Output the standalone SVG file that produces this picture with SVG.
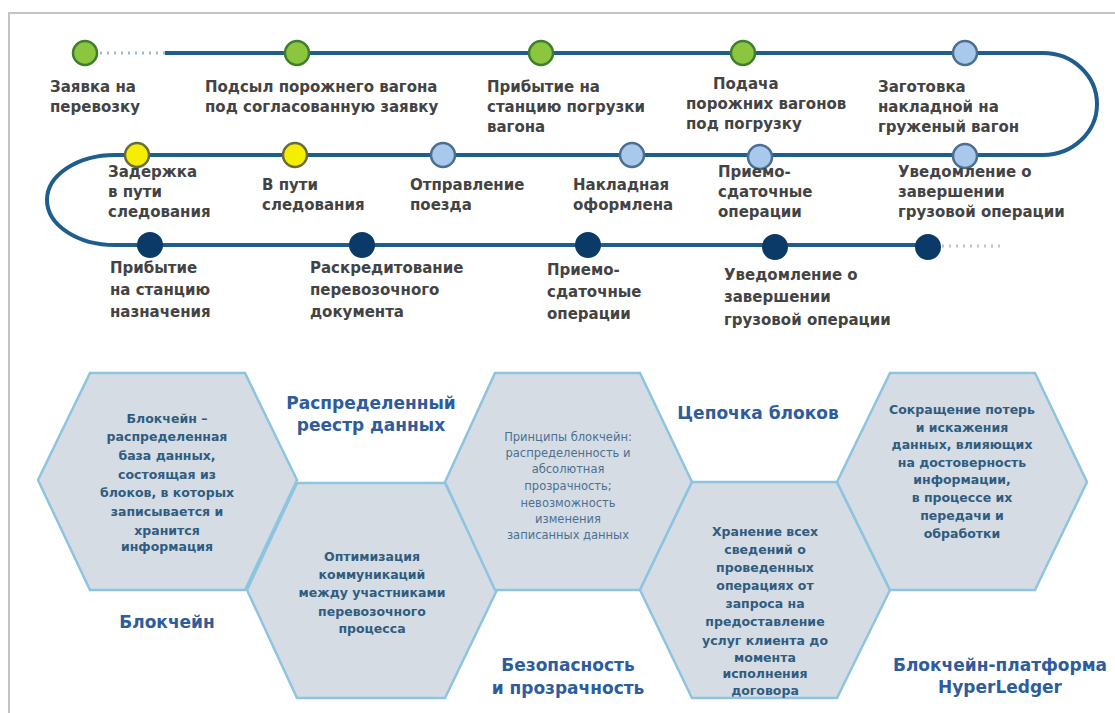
<svg xmlns="http://www.w3.org/2000/svg" width="1115" height="713" viewBox="0 0 1115 713">
<style>
.lbl{font-family:"DejaVu Sans",Verdana,sans-serif;font-weight:bold;font-size:15px;fill:#434343}
.hx{fill:#d5dce4;stroke:#8fc4e0;stroke-width:2.5}
.ht{font-family:"DejaVu Sans",Verdana,sans-serif;font-weight:bold;font-size:12.5px;fill:#2f5c80;text-anchor:middle}
.ht3{font-family:"DejaVu Sans",Verdana,sans-serif;font-size:11.5px;fill:#4b7192;text-anchor:middle}
.ttl{font-family:"DejaVu Sans",Verdana,sans-serif;font-weight:bold;font-size:17px;fill:#2e5c9c;text-anchor:middle}
.g{fill:#8cc63e;stroke:#3e7f2d;stroke-width:2.5}
.y{fill:#f4ef00;stroke:#6d6a3a;stroke-width:2.5}
.b{fill:#a9c9ec;stroke:#4a6e94;stroke-width:2.5}
.n{fill:#0c3a68;stroke:#0c3a68;stroke-width:2}
</style>
<rect x="9" y="13" width="1130" height="730" fill="none" stroke="#c4c4c4" stroke-width="2"/>
<g id="connectors" fill="none">
<path d="M165,53 H1043 A54,51 0 0 1 1043,155 H115 A68,45 0 0 0 115,245 H930" stroke="#1f5e8c" stroke-width="4"/>
<line x1="100" y1="53" x2="165" y2="53" stroke="#9fb8cf" stroke-width="3" stroke-dasharray="2 5"/>
<line x1="942" y1="246" x2="1002" y2="246" stroke="#b5c6d6" stroke-width="3" stroke-dasharray="2 5"/>
</g>
<g id="e1"><circle class="g" cx="85" cy="53" r="12"/><text class="lbl" x="50" y="92">Заявка на</text><text class="lbl" x="50" y="112">перевозку</text></g>
<g id="e2"><circle class="g" cx="297" cy="53" r="12"/><text class="lbl" x="205" y="92">Подсыл порожнего вагона</text><text class="lbl" x="205" y="112">под согласованную заявку</text></g>
<g id="e3"><circle class="g" cx="541" cy="53" r="12"/><text class="lbl" x="487" y="92">Прибытие на</text><text class="lbl" x="487" y="112">станцию погрузки</text><text class="lbl" x="487" y="132">вагона</text></g>
<g id="e4"><circle class="g" cx="743" cy="53" r="12"/><text class="lbl" x="713" y="89">Подача</text><text class="lbl" x="686" y="109">порожних вагонов</text><text class="lbl" x="686" y="129">под погрузку</text></g>
<g id="e5"><circle class="b" cx="965" cy="53" r="12"/><text class="lbl" x="878" y="92">Заготовка</text><text class="lbl" x="878" y="112">накладной на</text><text class="lbl" x="878" y="132">груженый вагон</text></g>
<g id="e6"><circle class="y" cx="137" cy="155" r="12"/><text class="lbl" x="108" y="177">Задержка</text><text class="lbl" x="108" y="197">в пути</text><text class="lbl" x="108" y="217">следования</text></g>
<g id="e7"><circle class="y" cx="295" cy="155" r="12"/><text class="lbl" x="262" y="190">В пути</text><text class="lbl" x="262" y="210">следования</text></g>
<g id="e8"><circle class="b" cx="443" cy="155" r="12"/><text class="lbl" x="410" y="190">Отправление</text><text class="lbl" x="410" y="210">поезда</text></g>
<g id="e9"><circle class="b" cx="632" cy="155" r="12"/><text class="lbl" x="573" y="190">Накладная</text><text class="lbl" x="573" y="210">оформлена</text></g>
<g id="e10"><circle class="b" cx="760" cy="157" r="12"/><text class="lbl" x="718" y="177">Приемо-</text><text class="lbl" x="718" y="197">сдаточные</text><text class="lbl" x="718" y="217">операции</text></g>
<g id="e11"><circle class="b" cx="965" cy="156" r="12"/><text class="lbl" x="898" y="177">Уведомление о</text><text class="lbl" x="898" y="197">завершении</text><text class="lbl" x="898" y="217">грузовой операции</text></g>
<g id="e12"><circle class="n" cx="150" cy="245" r="12"/><text class="lbl" x="110" y="273">Прибытие</text><text class="lbl" x="110" y="295">на станцию</text><text class="lbl" x="110" y="317">назначения</text></g>
<g id="e13"><circle class="n" cx="362" cy="245" r="12"/><text class="lbl" x="310" y="273">Раскредитование</text><text class="lbl" x="310" y="295">перевозочного</text><text class="lbl" x="310" y="317">документа</text></g>
<g id="e14"><circle class="n" cx="588" cy="245" r="12"/><text class="lbl" x="547" y="275">Приемо-</text><text class="lbl" x="547" y="297">сдаточные</text><text class="lbl" x="547" y="319">операции</text></g>
<g id="e15"><circle class="n" cx="775" cy="247" r="12"/><text class="lbl" x="724" y="280">Уведомление о</text><text class="lbl" x="724" y="302">завершении</text><text class="lbl" x="724" y="325">грузовой операции</text></g>
<g id="e16"><circle class="n" cx="928" cy="247" r="12"/></g>
<g id="hex1"><polygon class="hx" points="90,373 245,373 297,480 245,590 90,590 38,480"/>
<text class="ht"><tspan x="167" y="423">Блокчейн –</tspan><tspan x="167" y="441">распределенная</tspan><tspan x="167" y="460">база данных,</tspan><tspan x="167" y="479">состоящая из</tspan><tspan x="167" y="497">блоков, в которых</tspan><tspan x="167" y="516">записывается и</tspan><tspan x="167" y="535">хранится</tspan><tspan x="167" y="551">информация</tspan></text></g>
<g id="hex2"><polygon class="hx" points="297,483 445,483 497,590 445,698 297,698 247,590"/>
<text class="ht"><tspan x="372" y="561">Оптимизация</tspan><tspan x="372" y="579">коммуникаций</tspan><tspan x="372" y="597">между участниками</tspan><tspan x="372" y="616">перевозочного</tspan><tspan x="372" y="633">процесса</tspan></text></g>
<g id="hex3"><polygon class="hx" points="495,373 640,373 692,482 640,590 495,590 445,482"/>
<text class="ht3"><tspan x="568" y="441">Принципы блокчейн:</tspan><tspan x="568" y="457">распределенность и</tspan><tspan x="568" y="473">абсолютная</tspan><tspan x="568" y="490">прозрачность;</tspan><tspan x="568" y="507">невозможность</tspan><tspan x="568" y="523">изменения</tspan><tspan x="568" y="539">записанных данных</tspan></text></g>
<g id="hex4"><polygon class="hx" points="692,482 837,482 890,590 837,698 692,698 640,590"/>
<text class="ht"><tspan x="765" y="536">Хранение всех</tspan><tspan x="765" y="554">сведений о</tspan><tspan x="765" y="572">проведенных</tspan><tspan x="765" y="590">операциях от</tspan><tspan x="765" y="608">запроса на</tspan><tspan x="765" y="626">предоставление</tspan><tspan x="765" y="645">услуг клиента до</tspan><tspan x="765" y="662">момента</tspan><tspan x="765" y="678">исполнения</tspan><tspan x="765" y="695">договора</tspan></text></g>
<g id="hex5"><polygon class="hx" points="890,373 1035,373 1087,482 1035,590 890,590 837,482"/>
<text class="ht"><tspan x="962" y="414">Сокращение потерь</tspan><tspan x="962" y="432">и искажения</tspan><tspan x="962" y="449">данных, влияющих</tspan><tspan x="962" y="467">на достоверность</tspan><tspan x="962" y="484">информации,</tspan><tspan x="962" y="502">в процессе их</tspan><tspan x="962" y="520">передачи и</tspan><tspan x="962" y="538">обработки</tspan></text></g>
<g id="t1"><text class="ttl"><tspan x="371" y="409">Распределенный</tspan><tspan x="371" y="431">реестр данных</tspan></text></g>
<g id="t2"><text class="ttl" x="758" y="419">Цепочка блоков</text></g>
<g id="t3"><text class="ttl" x="167" y="628">Блокчейн</text></g>
<g id="t4"><text class="ttl"><tspan x="568" y="671">Безопасность</tspan><tspan x="568" y="694">и прозрачность</tspan></text></g>
<g id="t5"><text class="ttl"><tspan x="1000" y="671">Блокчейн-платформа</tspan><tspan x="1000" y="693">HyperLedger</tspan></text></g>
</svg>
